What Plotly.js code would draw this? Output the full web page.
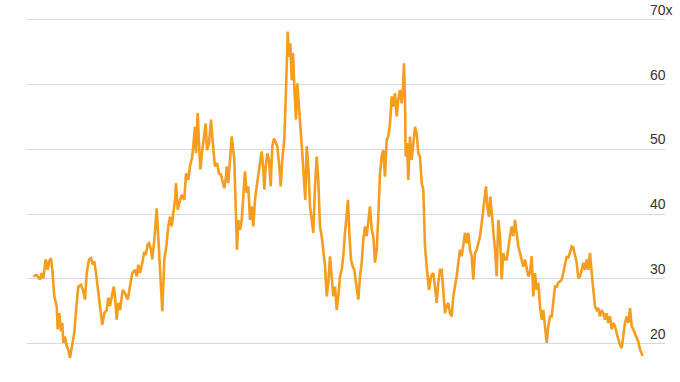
<!DOCTYPE html>
<html>
<head>
<meta charset="utf-8">
<script src="https://cdn.plot.ly/plotly-3.0.1.min.js"></script>
<style>html,body{margin:0;padding:0;background:#fff;}#chart{width:680px;height:382px;}</style>
</head>
<body>
<div id="chart"></div>
<script>
// Time (decimal years, approximate) and valuation multiple
const years = [
1990.015,1990.185,1990.35,1990.435,1990.515,1990.635,1990.735,1990.80,1990.90,1990.965,
1991.065,1991.185,1991.235,1991.315,1991.40,1991.465,1991.515,1991.60,1991.685,1991.765,
1991.85,1991.935,1992.065,1992.185,1992.265,1992.40,1992.515,1992.60,1992.685,1992.80,
1992.90,1992.985,1993.065,1993.15,1993.265,1993.35,1993.465,1993.565,1993.685,1993.765,
1993.85,1993.965,1994.035,1994.10,1994.185,1994.265,1994.35,1994.485,
1994.60,1994.735,1994.85,1994.965,1995.10,1995.185,1995.265,1995.35,1995.465,1995.565,
1995.635,1995.735,1995.80,1995.90,1995.965,1996.065,1996.185,1996.265,1996.35,1996.465,
1996.565,1996.665,1996.765,1996.85,1996.935,1997.015,1997.10,1997.15,1997.235,1997.315,
1997.435,1997.565,1997.65,1997.765,1997.85,1997.965,1998.015,1998.10,1998.15,1998.235,
1998.30,1998.365,1998.465,1998.55,1998.635,1998.70,1998.80,1998.90,1998.965,1999.035,
1999.10,1999.20,1999.30,1999.40,1999.485,1999.565,
1999.65,1999.685,1999.765,1999.85,1999.935,2000.065,2000.135,2000.20,2000.265,2000.35,
2000.435,2000.515,2000.60,2000.685,2000.765,2000.85,2000.935,2001.015,2001.10,2001.185,
2001.265,2001.35,2001.435,2001.515,2001.565,2001.635,2001.715,2001.80,2001.885,2001.965,
2002.05,2002.135,2002.215,2002.30,2002.385,2002.465,2002.565,2002.635,2002.685,2002.735,
2002.80,2002.865,2002.935,2003.00,2003.065,2003.15,2003.215,2003.30,2003.40,2003.465,
2003.55,2003.615,2003.685,2003.765,2003.85,2003.935,2004.015,2004.10,2004.185,2004.265,
2004.35,2004.435,2004.515,
2004.60,2004.685,2004.765,2004.85,2004.935,2005.015,2005.10,2005.185,2005.265,2005.35,
2005.435,2005.515,2005.60,2005.685,2005.75,2005.815,2005.90,2005.985,2006.065,2006.15,
2006.265,2006.35,2006.435,2006.515,2006.60,2006.685,2006.765,2006.85,2006.935,2007.015,
2007.10,2007.185,2007.265,2007.35,2007.435,2007.515,2007.60,2007.685,2007.765,2007.85,
2007.935,2008.015,2008.10,2008.185,2008.265,2008.35,2008.435,2008.50,2008.55,2008.60,
2008.635,2008.70,2008.765,2008.85,2008.935,2009.015,2009.10,2009.185,2009.265,2009.35,
2009.435,2009.515,
2009.60,2009.685,2009.80,2009.90,2010.015,2010.10,2010.185,2010.265,2010.35,2010.435,
2010.515,2010.60,2010.685,2010.765,2010.85,2010.935,2011.015,2011.10,2011.185,2011.265,
2011.35,2011.435,2011.515,2011.60,2011.685,2011.765,2011.85,2011.935,2012.015,2012.10,
2012.185,2012.265,2012.35,2012.435,2012.515,2012.60,2012.65,2012.715,2012.80,2012.865,
2012.935,2013.015,2013.10,2013.185,2013.265,2013.35,2013.435,2013.515,2013.60,2013.685,
2013.765,2013.85,2013.935,2014.015,2014.10,2014.185,2014.265,2014.35,2014.435,2014.515,
2014.60,2014.685,2014.765,
2014.85,2014.935,2015.015,2015.10,2015.185,2015.265,2015.35,2015.435,2015.515,2015.60,
2015.685,2015.765,2015.85,2015.935,2016.015,2016.10,2016.185,2016.265,2016.35,2016.435,
2016.515,2016.60,2016.685,2016.765,2016.85,2016.935,2017.015,2017.10,2017.185,2017.265,
2017.35,2017.435,2017.515,2017.60,2017.685,2017.765,2017.85,2017.935,2018.015,2018.10,
2018.185,2018.265,2018.35,2018.435,2018.515,2018.60,2018.685,2018.765,2018.85,2018.935,
2019.015,2019.10,2019.185,2019.265,2019.35,2019.435,2019.515,2019.60,2019.685,2019.765,
2019.85,2019.935,2020.015,2020.15,2020.265,2020.35,2020.435,2020.485
];
const multiple = [
30.4,30.6,29.9,30.9,30.1,33.0,31.4,32.7,33.2,31.4,
27.3,25.8,22.2,24.7,21.9,23.2,20.1,21.1,19.6,19.1,
17.8,19.6,21.7,26.3,28.8,29.1,28.1,26.8,30.9,33.0,
33.2,32.2,32.7,30.9,28.3,25.8,22.9,24.7,25.2,27.1,
25.8,27.8,28.8,27.3,23.7,26.3,25.2,28.3,
27.8,26.8,28.8,30.9,31.4,30.4,32.2,30.9,32.5,34.2,
33.7,35.3,35.5,34.5,33.0,36.0,40.9,36.0,32.5,25.0,
33.0,35.0,38.1,39.6,38.1,40.2,42.2,44.8,40.7,41.7,
43.0,42.2,46.3,45.3,47.4,48.9,51.0,53.5,49.4,55.6,
51.0,46.9,49.9,52.5,54.0,49.9,51.0,54.6,51.5,49.4,
47.4,47.9,46.3,46.1,45.0,44.0,
45.8,47.4,44.8,48.4,52.0,48.4,40.2,34.5,39.1,37.6,
39.1,43.3,46.6,43.3,44.3,39.1,41.2,38.1,42.2,44.3,
45.8,47.9,49.7,46.9,43.8,47.4,49.4,48.4,44.3,50.5,
51.7,51.0,50.5,47.9,44.3,48.4,51.5,57.7,64.9,68.2,
64.3,66.4,60.7,64.9,59.7,54.6,60.2,56.6,53.5,49.4,
45.3,42.2,50.5,47.4,41.2,39.1,37.1,44.3,48.9,45.3,
38.1,36.6,34.0,
32.0,27.3,29.4,33.5,29.4,27.3,28.8,25.2,27.3,30.4,
31.4,33.5,37.1,39.6,42.2,37.1,33.0,31.9,31.4,29.4,
26.8,30.4,32.5,36.0,38.1,36.6,39.1,41.2,37.6,36.6,
32.5,34.5,39.6,46.3,48.9,49.9,45.8,51.5,52.0,54.0,
58.2,56.6,58.7,55.1,57.7,59.2,57.1,59.7,63.3,57.7,
48.9,51.0,45.3,52.0,48.4,50.5,53.5,52.5,49.4,48.9,
44.8,43.8,
35.0,31.9,28.3,30.4,30.9,28.8,26.3,29.4,31.4,31.4,
27.8,24.7,25.8,26.3,24.7,24.2,27.3,28.8,30.4,32.5,
34.5,33.5,35.5,37.1,35.5,37.1,34.5,33.5,29.9,34.0,
34.5,35.5,36.6,38.6,40.7,42.7,44.3,41.2,39.6,42.7,
40.2,38.6,34.5,30.4,39.1,36.6,29.9,34.0,33.0,33.0,
35.0,36.6,38.1,36.6,39.1,37.1,35.0,34.0,33.0,31.9,
33.0,31.4,30.4,
30.9,33.5,27.3,30.9,28.3,29.4,25.8,23.7,25.2,22.7,
20.1,22.7,24.2,24.2,26.3,28.8,28.8,29.4,29.6,29.9,
30.9,32.5,33.5,33.2,34.2,35.0,34.8,33.5,32.5,30.1,
30.4,31.4,32.5,31.4,33.0,31.4,34.0,30.9,28.8,25.8,
25.2,25.5,24.2,25.2,24.7,23.7,24.7,23.2,24.2,22.2,
23.2,22.7,21.6,20.6,19.8,19.3,21.6,23.2,24.2,23.2,
25.5,22.7,22.2,21.1,20.3,19.1,18.3,18.1
];
const tickVals = [20, 30, 40, 50, 60, 70];
const tickText = ['20', '30', '40', '50', '60', '70x'];

const trace = {
  x: years, y: multiple, type: 'scatter', mode: 'lines',
  line: {color: '#F49D1F', width: 2.6, shape: 'linear'},
  hoverinfo: 'skip'
};

const annotations = tickVals.map((v, i) => ({
  xref: 'paper', yref: 'y', x: 0.9734, y: v,
  text: tickText[i], showarrow: false,
  xanchor: 'left', yanchor: 'middle', yshift: 10,
  font: {family: 'Liberation Sans, Arial, sans-serif', size: 14, color: '#333333'}
}));

const layout = {
  width: 680, height: 382,
  margin: {l: 27, r: 15, t: 7, b: 6},
  paper_bgcolor: '#ffffff', plot_bgcolor: '#ffffff',
  showlegend: false,
  xaxis: {range: [1989.7, 2021.6], showgrid: false, zeroline: false, showticklabels: false, ticks: '', showline: false},
  yaxis: {range: [15, 72], tickvals: tickVals, showticklabels: false, ticks: '',
          showgrid: true, gridcolor: '#d9d9d9', gridwidth: 1, zeroline: false, showline: false},
  annotations: annotations
};

Plotly.newPlot('chart', [trace], layout, {staticPlot: true, displayModeBar: false});
</script>
</body>
</html>
